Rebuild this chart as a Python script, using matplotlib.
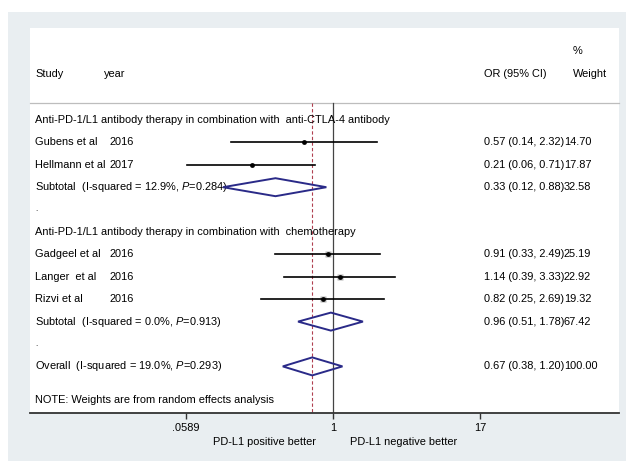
import numpy as np
import matplotlib.pyplot as plt
from matplotlib import font_manager
from matplotlib.patches import Rectangle, Polygon

names = {f.name for f in font_manager.fontManager.ttflist}
if 'Liberation Sans Narrow' in names:
    base_font, fs = 'Liberation Sans Narrow', 9.3
else:
    base_font, fs = 'Liberation Sans', 7.9
plt.rcParams['font.family'] = [base_font, 'DejaVu Sans']
plt.rcParams['mathtext.fontset'] = 'custom'
plt.rcParams['mathtext.rm'] = base_font
plt.rcParams['mathtext.it'] = 'Liberation Sans:italic'

# === DATA ===
group_titles = ["Anti-PD-1/L1 antibody therapy in combination with  anti-CTLA-4 antibody",
                "Anti-PD-1/L1 antibody therapy in combination with  chemotherapy"]
group_members = [2, 3]
studies = ["Gubens et al", "Hellmann et al", "Gadgeel et al", "Langer  et al", "Rizvi et al"]
years = ["2016", "2017", "2016", "2016", "2016"]
or_vals = [0.57, 0.21, 0.91, 1.14, 0.82]
ci_lo = [0.14, 0.06, 0.33, 0.39, 0.25]
ci_hi = [2.32, 0.71, 2.49, 3.33, 2.69]
weights = [14.70, 17.87, 25.19, 22.92, 19.32]

sub_or = [0.33, 0.96]
sub_lo = [0.12, 0.51]
sub_hi = [0.88, 1.78]
sub_w = [32.58, 67.42]
sub_i2 = [12.9, 0.0]
sub_p = [0.284, 0.913]

overall = dict(or_=0.67, lo=0.38, hi=1.20, w=100.00, i2=19.0, p=0.293)

ticks = [0.0589, 1, 17]
tick_labels = [".0589", "1", "17"]

# === LAYOUT (pixel-ish coordinates) ===
W, H = 626, 461
fig = plt.figure(figsize=(W / 100, H / 100), dpi=100)
fig.patch.set_facecolor('white')
fig.patches.append(Rectangle((8 / W, 0), 1 - 8 / W, 1 - 12 / H, transform=fig.transFigure,
                             facecolor='#e9eef1', edgecolor='none', zorder=-5))

x0, x1, ytop, ybot = 30, 619, 28, 413
ax = fig.add_axes([x0 / W, 1 - ybot / H, (x1 - x0) / W, (ybot - ytop) / H])
ax.set_facecolor('white')
ax.set_xscale('log')
px_per_ln = 51.9
ax.set_xlim(np.exp((x0 - 333) / px_per_ln), np.exp((x1 - 333) / px_per_ln))
ax.set_ylim(ybot, ytop)
for s in ['top', 'left', 'right']:
    ax.spines[s].set_visible(False)
ax.spines['bottom'].set_color('#333333')
ax.spines['bottom'].set_linewidth(1.3)
ax.set_yticks([])
ax.set_xticks(ticks)
ax.set_xticklabels(tick_labels)
ax.minorticks_off()
ax.tick_params(axis='x', length=4.5, width=1, color='#333333', pad=3, labelsize=fs)

tx = ax.get_yaxis_transform()  # x in axes fraction, y in data


def colx(px):
    return (px - x0) / (x1 - x0)


col_study, col_year, col_or, col_w = colx(35), colx(110), colx(484), colx(564)

# header
ax.text(col_study, 74, "Study", transform=tx, fontsize=fs, va='center')
ax.text(colx(104), 74, "year", transform=tx, fontsize=fs, va='center')
ax.text(col_or, 74, "OR (95% CI)", transform=tx, fontsize=fs, va='center')
ax.text(colx(573), 74, "Weight", transform=tx, fontsize=fs, va='center')
ax.text(colx(573), 51, "%", transform=tx, fontsize=fs, va='center')
ax.plot([0, 1], [103, 103], transform=tx, color='#bdbdbd', lw=0.9, clip_on=False)

# reference lines
ax.plot([1, 1], [103, ybot], color='#444444', lw=0.9)
ax.plot([overall['or_']] * 2, [103, ybot], color='#b04050', lw=0.8, dashes=(3, 2))

row0, step = 120, 22.4
diamond_color = '#2a2a88'


def diamond(y, c, lo, hi):
    ax.add_patch(Polygon([(lo, y), (c, y - 9), (hi, y), (c, y + 9)], closed=True,
                         fill=False, edgecolor=diamond_color, lw=1.4, zorder=4))


def stat_text(y, o, lo, hi, w):
    ax.text(col_or, y, f"{o:.2f} ({lo:.2f}, {hi:.2f})", transform=tx, fontsize=fs, va='center')
    ax.text(col_w, y, f"{w:.2f}", transform=tx, fontsize=fs, va='center')


row = 0
k = 0
for g, title in enumerate(group_titles):
    ax.text(col_study, row0 + row * step, title, transform=tx, fontsize=fs, va='center')
    row += 1
    for _ in range(group_members[g]):
        y = row0 + row * step
        ax.text(col_study, y, studies[k], transform=tx, fontsize=fs, va='center')
        ax.text(col_year, y, years[k], transform=tx, fontsize=fs, va='center')
        ax.plot([ci_lo[k], ci_hi[k]], [y, y], color='black', lw=1.2, zorder=3)
        ax.plot(or_vals[k], y, marker='s', ms=0.85 * np.sqrt(weights[k]), color='#b4b4b4',
                mec='none', zorder=2)
        ax.plot(or_vals[k], y, marker='o', ms=2.4, color='black', zorder=4)
        stat_text(y, or_vals[k], ci_lo[k], ci_hi[k], weights[k])
        row += 1
        k += 1
    y = row0 + row * step
    ax.text(col_study, y, f"Subtotal  (I-squared = {sub_i2[g]:.1f}%, $P$=" + f"{sub_p[g]:.3f})",
            transform=tx, fontsize=fs, va='center')
    diamond(y, sub_or[g], sub_lo[g], sub_hi[g])
    stat_text(y, sub_or[g], sub_lo[g], sub_hi[g], sub_w[g])
    row += 1
    ax.text(col_study, row0 + row * step, ".", transform=tx, fontsize=fs - 2, va='center')
    row += 1

y = row0 + row * step
ax.text(col_study, y, f"Overall  (I-squared = {overall['i2']:.1f}%, $P$=" + f"{overall['p']:.3f})",
        transform=tx, fontsize=fs, va='center')
diamond(y, overall['or_'], overall['lo'], overall['hi'])
stat_text(y, overall['or_'], overall['lo'], overall['hi'], overall['w'])

ax.text(col_study, 400, "NOTE: Weights are from random effects analysis", transform=tx,
        fontsize=fs, va='center')

# direction labels
ax.text(0.72, 442, "PD-L1 positive better", fontsize=fs, ha='right', va='center', clip_on=False)
ax.text(1.4, 442, "PD-L1 negative better", fontsize=fs, ha='left', va='center', clip_on=False)

fig.savefig("out.png", dpi=100)
